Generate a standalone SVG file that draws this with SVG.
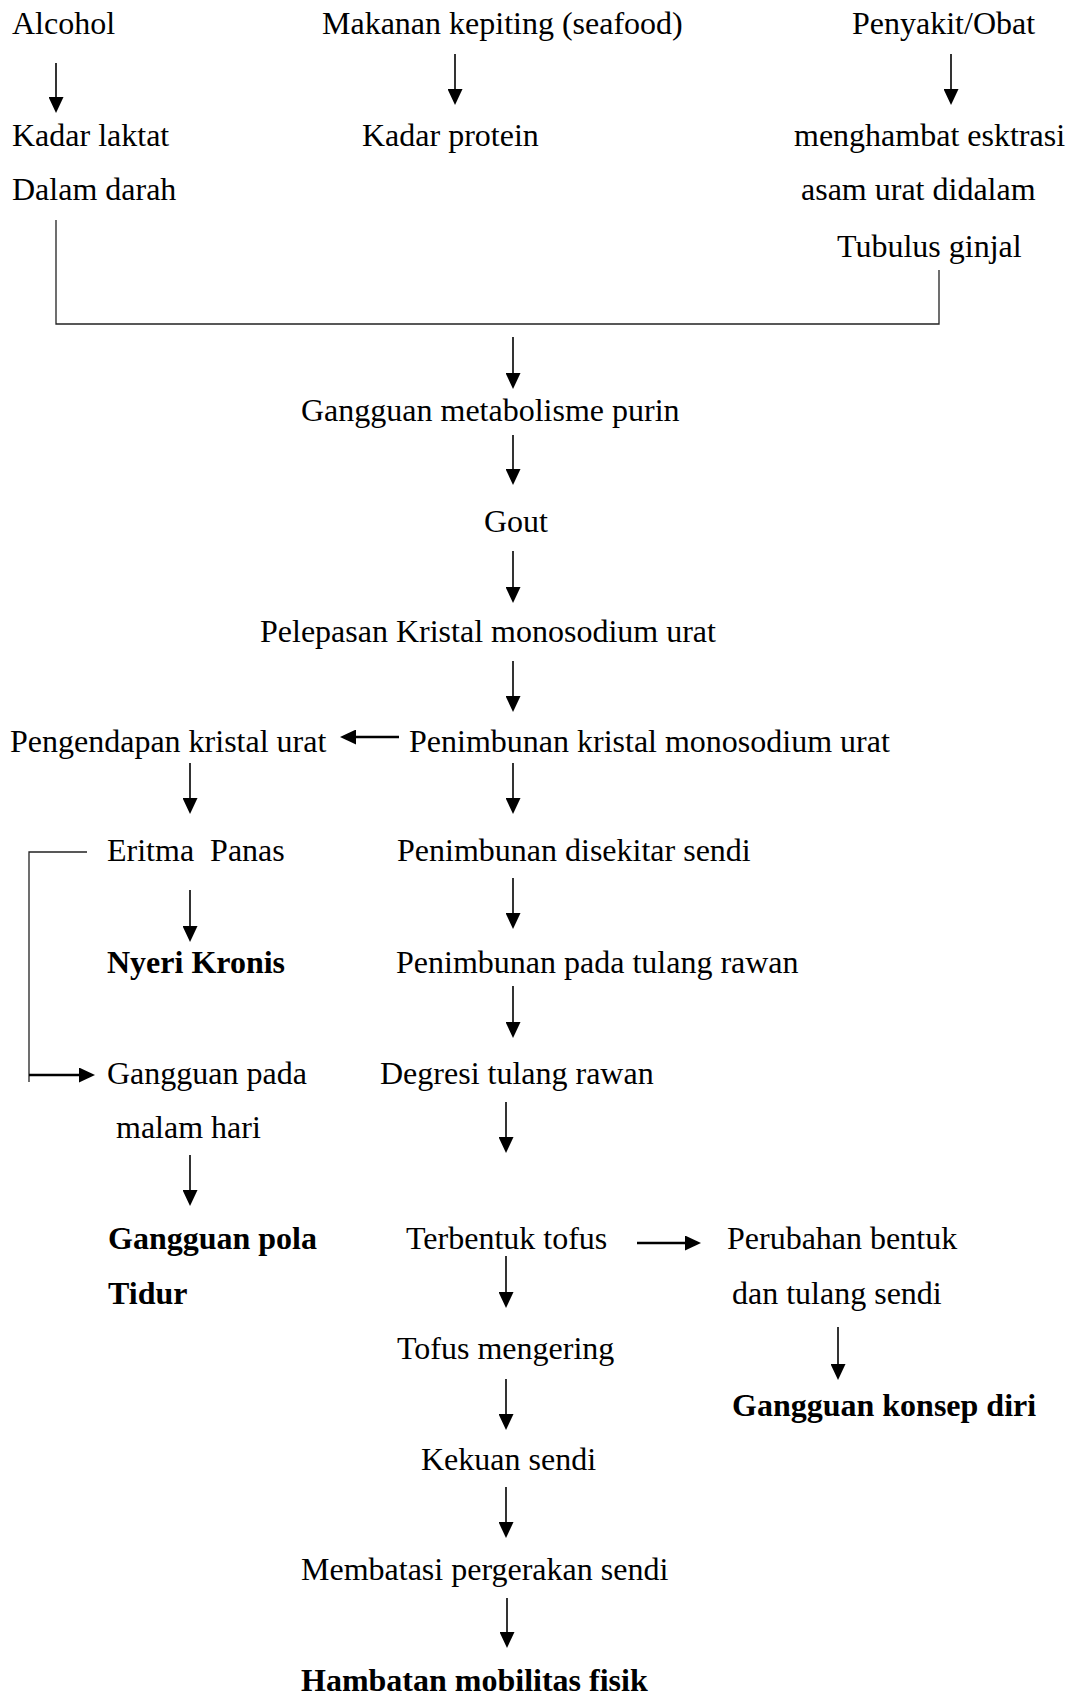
<svg xmlns="http://www.w3.org/2000/svg" width="1073" height="1695" viewBox="0 0 1073 1695">
<style>
text{font-family:"Liberation Serif","Times New Roman",serif;font-size:32px;fill:#000;white-space:pre}
.b{font-weight:bold}
.a{stroke:#000;stroke-width:1.6;fill:none;marker-end:url(#ah)}
.h{stroke:#000;stroke-width:2.6;fill:none;marker-end:url(#ah)}
.l{stroke:#222;stroke-width:1.3;fill:none}
</style>
<defs>
<marker id="ah" viewBox="0 0 16 15" refX="11" refY="7.5" markerWidth="16" markerHeight="15" markerUnits="userSpaceOnUse" orient="auto">
<path d="M0,0 L16,7.5 L0,15 z" fill="#000"/>
</marker>
</defs>
<rect width="1073" height="1695" fill="#fff"/>
<g id="n-alcohol"><text x="12" y="34">Alcohol</text></g>
<g id="n-makanan"><text x="322" y="34">Makanan kepiting (seafood)</text></g>
<g id="n-penyakit"><text x="852" y="34">Penyakit/Obat</text></g>
<g id="n-laktat"><text x="12" y="146">Kadar laktat</text><text x="12" y="200">Dalam darah</text></g>
<g id="n-protein"><text x="362" y="146">Kadar protein</text></g>
<g id="n-hambat"><text x="794" y="146">menghambat esktrasi</text><text x="801" y="200">asam urat didalam</text><text x="837" y="257">Tubulus ginjal</text></g>
<g id="n-purin"><text x="301" y="421">Gangguan metabolisme purin</text></g>
<g id="n-gout"><text x="484" y="532">Gout</text></g>
<g id="n-pelepasan"><text x="260" y="642">Pelepasan Kristal monosodium urat</text></g>
<g id="n-pengendapan"><text x="10" y="752">Pengendapan kristal urat</text></g>
<g id="n-penimbunan"><text x="409" y="752">Penimbunan kristal monosodium urat</text></g>
<g id="n-eritma"><text x="107" y="861">Eritma  Panas</text></g>
<g id="n-sekitar"><text x="397" y="861">Penimbunan disekitar sendi</text></g>
<g id="n-nyeri"><text class="b" x="107" y="973">Nyeri Kronis</text></g>
<g id="n-rawan"><text x="396" y="973">Penimbunan pada tulang rawan</text></g>
<g id="n-malam"><text x="107" y="1084">Gangguan pada</text><text x="116" y="1138">malam hari</text></g>
<g id="n-degresi"><text x="380" y="1084">Degresi tulang rawan</text></g>
<g id="n-tidur"><text class="b" x="108" y="1249">Gangguan pola</text><text class="b" x="108" y="1304">Tidur</text></g>
<g id="n-tofus"><text x="406" y="1249">Terbentuk tofus</text></g>
<g id="n-perubahan"><text x="727" y="1249">Perubahan bentuk</text><text x="732" y="1304">dan tulang sendi</text></g>
<g id="n-mengering"><text x="397" y="1359">Tofus mengering</text></g>
<g id="n-konsep"><text class="b" x="732" y="1416">Gangguan konsep diri</text></g>
<g id="n-kekuan"><text x="421" y="1470">Kekuan sendi</text></g>
<g id="n-membatasi"><text x="301" y="1580">Membatasi pergerakan sendi</text></g>
<g id="n-hambatan"><text class="b" x="301" y="1691">Hambatan mobilitas fisik</text></g>
<g id="connectors">
<line class="a" x1="56" y1="63" x2="56" y2="108"/>
<line class="a" x1="455" y1="54" x2="455" y2="100"/>
<line class="a" x1="951" y1="54" x2="951" y2="100"/>
<polyline class="l" points="56,220 56,324 939,324 939,270"/>
<line class="a" x1="513" y1="337" x2="513" y2="384"/>
<line class="a" x1="513" y1="435" x2="513" y2="480"/>
<line class="a" x1="513" y1="551" x2="513" y2="598"/>
<line class="a" x1="513" y1="661" x2="513" y2="707"/>
<line class="h" x1="399" y1="737" x2="345" y2="737"/>
<line class="a" x1="190" y1="763" x2="190" y2="809"/>
<line class="a" x1="513" y1="763" x2="513" y2="809"/>
<polyline class="l" points="87,852 29,852 29,1082"/>
<line class="h" x1="29" y1="1075" x2="90" y2="1075"/>
<line class="a" x1="190" y1="890" x2="190" y2="937"/>
<line class="a" x1="513" y1="878" x2="513" y2="924"/>
<line class="a" x1="513" y1="986" x2="513" y2="1033"/>
<line class="a" x1="506" y1="1102" x2="506" y2="1148"/>
<line class="a" x1="190" y1="1155" x2="190" y2="1201"/>
<line class="h" x1="637" y1="1243" x2="696" y2="1243"/>
<line class="a" x1="506" y1="1256" x2="506" y2="1303"/>
<line class="a" x1="838" y1="1327" x2="838" y2="1375"/>
<line class="a" x1="506" y1="1379" x2="506" y2="1425"/>
<line class="a" x1="506" y1="1487" x2="506" y2="1533"/>
<line class="a" x1="507" y1="1598" x2="507" y2="1643"/>
</g>
</svg>
